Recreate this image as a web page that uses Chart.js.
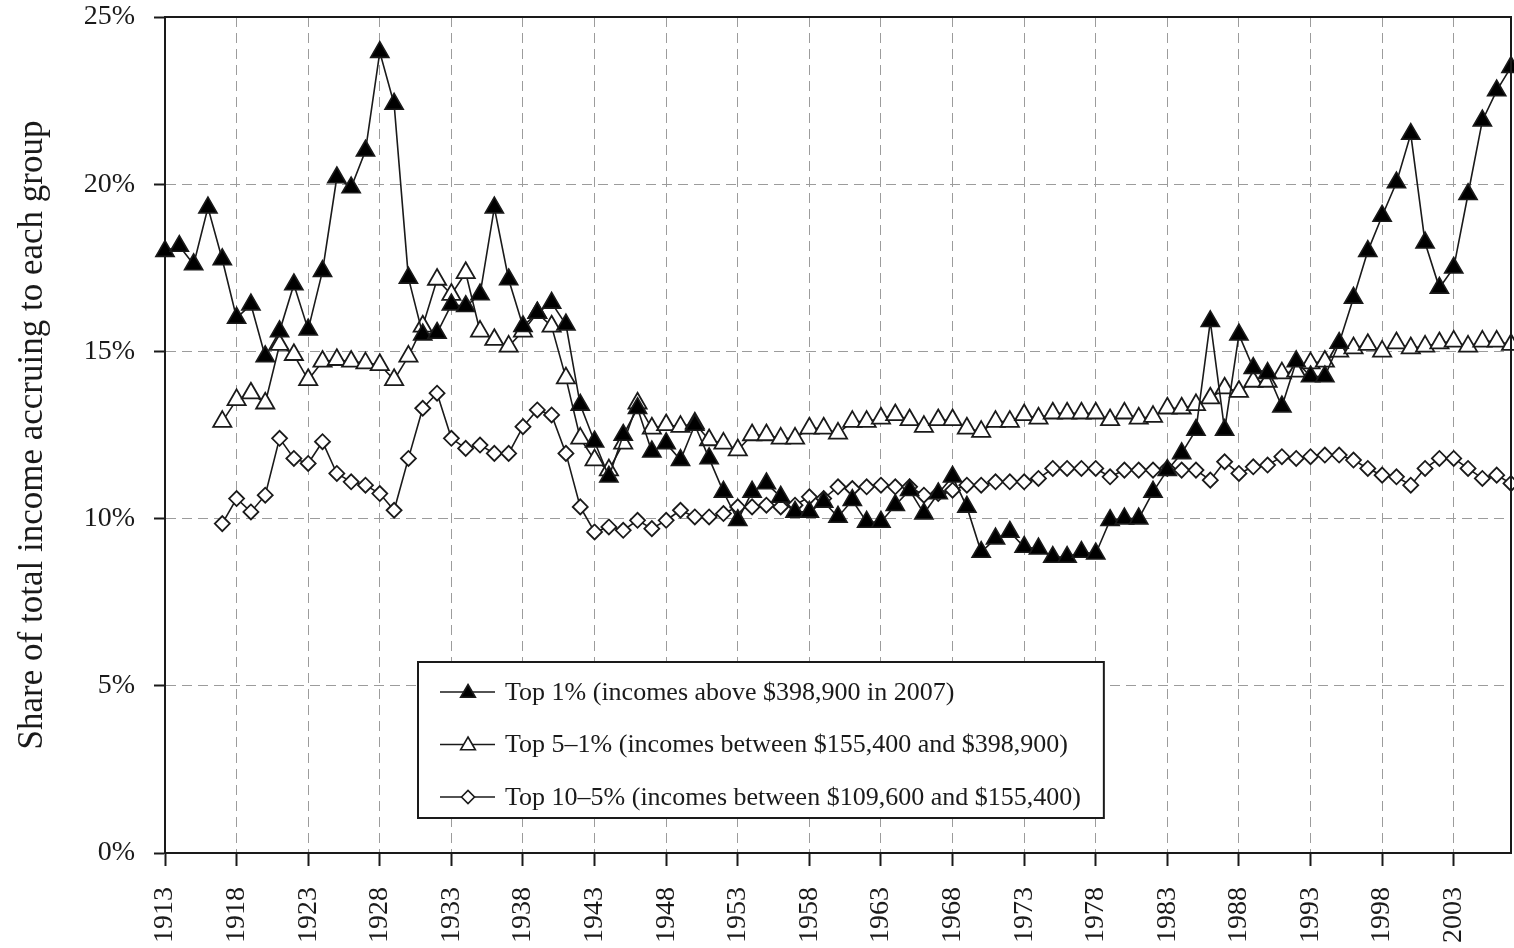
<!DOCTYPE html>
<html>
<head>
<meta charset="utf-8">
<title>Top income shares, 1913-2007</title>
<script src="https://cdn.jsdelivr.net/npm/chart.js@4.4.0/dist/chart.umd.min.js"></script>
<style>
  html, body { margin: 0; padding: 0; background: #fff; }
  #wrap { width: 1514px; height: 948px; position: relative; }
</style>
</head>
<body>
<div id="wrap"><canvas id="shareChart"></canvas></div>
<script>
"use strict";

// years on the x axis
var years = [
  1913, 1914, 1915, 1916, 1917, 1918, 1919, 1920, 1921, 1922,
  1923, 1924, 1925, 1926, 1927, 1928, 1929, 1930, 1931, 1932,
  1933, 1934, 1935, 1936, 1937, 1938, 1939, 1940, 1941, 1942,
  1943, 1944, 1945, 1946, 1947, 1948, 1949, 1950, 1951, 1952,
  1953, 1954, 1955, 1956, 1957, 1958, 1959, 1960, 1961, 1962,
  1963, 1964, 1965, 1966, 1967, 1968, 1969, 1970, 1971, 1972,
  1973, 1974, 1975, 1976, 1977, 1978, 1979, 1980, 1981, 1982,
  1983, 1984, 1985, 1986, 1987, 1988, 1989, 1990, 1991, 1992,
  1993, 1994, 1995, 1996, 1997, 1998, 1999, 2000, 2001, 2002,
  2003, 2004, 2005, 2006, 2007
];

// Top 1%
var top1 = [
  18.0, 18.15, 17.6, 19.3, 17.75, 16.0, 16.4, 14.85, 15.6, 17.0,
  15.65, 17.4, 20.2, 19.9, 21.0, 23.95, 22.4, 17.2, 15.5, 15.55,
  16.4, 16.35, 16.7, 19.3, 17.15, 15.75, 16.15, 16.45, 15.8, 13.4,
  12.3, 11.25, 12.5, 13.3, 12.0, 12.25, 11.75, 12.8, 11.8, 10.8,
  9.95, 10.8, 11.05, 10.65, 10.2, 10.2, 10.5, 10.05, 10.55, 9.9,
  9.9, 10.4, 10.85, 10.15, 10.75, 11.25, 10.35, 9.0, 9.4, 9.6,
  9.15, 9.1, 8.85, 8.85, 9.0, 8.95, 9.95, 10.0, 10.0, 10.8,
  11.45, 11.95, 12.65, 15.9, 12.65, 15.5, 14.5, 14.35, 13.35, 14.7,
  14.25, 14.25, 15.25, 16.6, 18.0, 19.05, 20.05, 21.5, 18.25, 16.9,
  17.5, 19.7, 21.9, 22.8, 23.5
];

// Top 5-1%
var top5to1 = [
  null, null, null, null, 12.9, 13.55, 13.75, 13.45, 15.2, 14.9,
  14.15, 14.7, 14.75, 14.7, 14.65, 14.6, 14.15, 14.85, 15.75, 17.15,
  16.7, 17.35, 15.6, 15.35, 15.15, 15.6, 16.15, 15.75, 14.2, 12.4,
  11.75, 11.45, 12.25, 13.45, 12.7, 12.8, 12.75, 12.85, 12.35, 12.25,
  12.05, 12.5, 12.5, 12.4, 12.4, 12.7, 12.7, 12.55, 12.9, 12.9,
  13.0, 13.1, 12.95, 12.75, 12.95, 12.95, 12.7, 12.6, 12.9, 12.9,
  13.1, 13.0, 13.15, 13.15, 13.15, 13.15, 12.95, 13.15, 13.0, 13.05,
  13.3, 13.3, 13.4, 13.6, 13.9, 13.8, 14.1, 14.1, 14.35, 14.4,
  14.65, 14.7, 15.0, 15.1, 15.2, 15.0, 15.25, 15.1, 15.15, 15.25,
  15.3, 15.15, 15.3, 15.3, 15.2
];

// Top 10-5%
var top10to5 = [
  null, null, null, null, 9.85, 10.6, 10.2, 10.7, 12.4, 11.8,
  11.65, 12.3, 11.35, 11.1, 11.0, 10.75, 10.25, 11.8, 13.3, 13.75,
  12.4, 12.1, 12.2, 11.95, 11.95, 12.75, 13.25, 13.1, 11.95, 10.35,
  9.6, 9.75, 9.65, 9.95, 9.7, 9.95, 10.25, 10.05, 10.05, 10.15,
  10.35, 10.35, 10.4, 10.35, 10.4, 10.65, 10.6, 10.95, 10.9, 10.95,
  11.0, 10.95, 10.95, 10.7, 10.75, 10.85, 11.0, 11.0, 11.1, 11.1,
  11.1, 11.2, 11.5, 11.5, 11.5, 11.5, 11.25, 11.45, 11.45, 11.45,
  11.5, 11.45, 11.45, 11.15, 11.7, 11.35, 11.55, 11.6, 11.85, 11.8,
  11.85, 11.9, 11.9, 11.75, 11.5, 11.3, 11.25, 11.0, 11.5, 11.8,
  11.8, 11.5, 11.2, 11.3, 11.05
];

var tickYears = [1913, 1918, 1923, 1928, 1933, 1938, 1943, 1948, 1953, 1958,
  1963, 1968, 1973, 1978, 1983, 1988, 1993, 1998, 2003];
var yTicks = [0, 5, 10, 15, 20, 25];

var seriesLabels = [
  'Top 1% (incomes above $398,900 in 2007)',
  'Top 5\u20131% (incomes between $155,400 and $398,900)',
  'Top 10\u20135% (incomes between $109,600 and $155,400)'
];
var yTitle = 'Share of total income accruing to each group';

var serif = '"Liberation Serif", "DejaVu Serif", serif';
var ink = '#1a1a1a';

function points(values) {
  return years.map(function (yr, i) {
    return { x: yr, y: values[i] };
  });
}

// frame on top and right, legend box inside plot
var framePlugin = {
  id: 'frame',
  afterDraw: function (chart) {
    var ctx = chart.ctx;
    var a = chart.chartArea;
    ctx.save();
    ctx.strokeStyle = ink;
    ctx.lineWidth = 2;
    ctx.beginPath();
    ctx.moveTo(a.left, a.top);
    ctx.lineTo(a.right, a.top);
    ctx.lineTo(a.right, a.bottom);
    ctx.stroke();

    // legend
    var left = a.left + 253;
    var top = a.top + 645;
    ctx.font = '26px ' + serif;
    var widest = 0;
    chart.data.datasets.forEach(function (ds) {
      widest = Math.max(widest, ctx.measureText(ds.label).width);
    });
    var w = 87 + widest + 23;
    var h = 156;
    ctx.fillStyle = '#fff';
    ctx.fillRect(left, top, w, h);
    ctx.lineWidth = 2;
    ctx.strokeStyle = ink;
    ctx.strokeRect(left, top, w, h);

    chart.data.datasets.forEach(function (ds, i) {
      var y = top + 30 + i * 52.5;
      ctx.beginPath();
      ctx.lineWidth = 1.6;
      ctx.strokeStyle = ink;
      ctx.moveTo(left + 22, y);
      ctx.lineTo(left + 77, y);
      ctx.stroke();
      ctx.fillStyle = ds.pointBackgroundColor;
      ctx.lineWidth = 1.6;
      Chart.helpers.drawPoint(ctx, {
        pointStyle: ds.pointStyle,
        radius: ds.pointStyle === 'rectRot' ? 6.5 : 8.5,
        rotation: 0,
        borderWidth: 1.6
      }, left + 50, y + (ds.pointStyle === 'rectRot' ? 0 : 1));
      ctx.fillStyle = ink;
      ctx.textBaseline = 'middle';
      ctx.textAlign = 'left';
      ctx.fillText(ds.label, left + 87, y + 1);
    });
    ctx.restore();
  }
};

var ctx = document.getElementById('shareChart');
var config = {
  type: 'line',
  data: {
    datasets: [{
      label: seriesLabels[0],
      data: points(top1),
      borderColor: ink,
      borderWidth: 1.6,
      pointStyle: 'triangle',
      pointRadius: 10.5,
      pointBackgroundColor: '#000',
      pointBorderColor: ink,
      pointBorderWidth: 1.6,
      clip: false
    }, {
      label: seriesLabels[1],
      data: points(top5to1),
      borderColor: ink,
      borderWidth: 1.6,
      pointStyle: 'triangle',
      pointRadius: 10.5,
      pointBackgroundColor: '#fff',
      pointBorderColor: ink,
      pointBorderWidth: 1.8,
      clip: false
    }, {
      label: seriesLabels[2],
      data: points(top10to5),
      borderColor: ink,
      borderWidth: 1.6,
      pointStyle: 'rectRot',
      pointRadius: 7.5,
      pointBackgroundColor: '#fff',
      pointBorderColor: ink,
      pointBorderWidth: 1.8,
      clip: false
    }]
  },
  options: {
    responsive: true,
    maintainAspectRatio: false,
    animation: false,
    layout: {
      autoPadding: false,
      padding: { top: 17, right: 3, left: 0, bottom: 0 }
    },
    plugins: {
      legend: { display: false },
      tooltip: { enabled: false }
    },
    scales: {
      x: {
        type: 'linear',
        min: 1913,
        max: 2007,
        afterBuildTicks: function (scale) {
          scale.ticks = tickYears.map(function (v) { return { value: v }; });
        },
        afterFit: function (scale) {
          scale.height = 95;
          scale.paddingLeft = 0;
          scale.paddingRight = 0;
        },
        ticks: {
          autoSkip: false,
          minRotation: 90,
          maxRotation: 90,
          padding: 21,
          color: ink,
          font: { family: serif, size: 28 },
          callback: function (v) { return String(v); }
        },
        grid: {
          color: '#9c9c9c',
          lineWidth: 1,
          tickColor: ink,
          tickWidth: 2,
          tickLength: 13
        },
        border: { display: true, color: ink, width: 2, dash: [10, 6] }
      },
      y: {
        min: 0,
        max: 25,
        afterBuildTicks: function (scale) {
          scale.ticks = yTicks.map(function (v) { return { value: v }; });
        },
        afterFit: function (scale) {
          scale.width = 165;
          scale.paddingTop = 0;
          scale.paddingBottom = 0;
        },
        ticks: {
          padding: 19,
          color: ink,
          font: { family: serif, size: 28 },
          callback: function (v) { return v + '%'; }
        },
        grid: {
          color: '#9c9c9c',
          lineWidth: 1,
          tickColor: ink,
          tickWidth: 2,
          tickLength: 11
        },
        border: { display: true, color: ink, width: 2, dash: [10, 6] },
        title: {
          display: true,
          text: yTitle,
          color: ink,
          font: { family: serif, size: 35 },
          padding: { top: 12, bottom: 0 }
        }
      }
    }
  },
  plugins: [framePlugin]
};
var shareChart = new Chart(ctx, config);
</script>
</body>
</html>
